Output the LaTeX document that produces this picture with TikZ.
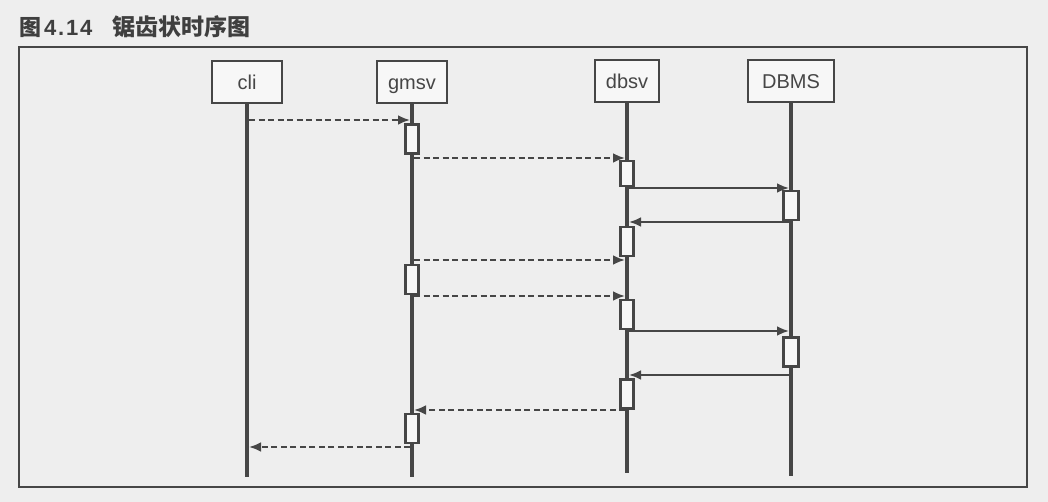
\documentclass[tikz,border=0pt]{standalone}
\usepackage{fontspec}
\setmainfont{Liberation Sans}
\newfontfamily\cjk{Noto Sans CJK SC}
\usetikzlibrary{arrows.meta}
\definecolor{paper}{RGB}{238,238,238}
\definecolor{ink}{RGB}{70,70,70}
\definecolor{boxfill}{RGB}{247,247,247}

\begin{document}
\begin{tikzpicture}[x=1pt, y=-1pt,
	head/.style={draw=ink, line width=2.4pt, fill=boxfill, minimum height=42pt, inner sep=0pt, text height=16pt, text depth=0pt, text=ink, font=\fontsize{20}{20}\selectfont},
	life/.style={ink, line width=4.5pt},
	act/.style={draw=ink, line width=2.4pt, fill=boxfill, minimum width=13pt, minimum height=29pt, inner sep=0pt},
	query/.style={ink, line width=2.8pt, shorten <=2pt, shorten >=2pt, -{Latex[length=12pt,width=10pt]}},
	remote/.style={query, dash pattern=on 6pt off 3.5pt}]

% page
\fill[paper] (0,0) rectangle (1048,502);
\useasboundingbox (0,0) rectangle (1048,502);

% caption
\node[anchor=west, text=ink!90!black, inner sep=0pt] (title) at (19,27)
	{\fontsize{22}{22}\selectfont{\cjk\bfseries 图}\hspace{3pt}{\addfontfeature{LetterSpace=8}\bfseries 4.14}\hspace{20pt}{\fontsize{23}{23}\selectfont\cjk\bfseries 锯齿状时序图}};

% frame
\draw[ink, line width=1.6pt] (19,47) rectangle (1027,487);

% heads
\node[head, minimum width=70pt] (cli) at (247,82) {cli};
\node[head, minimum width=70pt] (gmsv) at (412,82) {gmsv};
\node[head, minimum width=64pt] (dbsv) at (627,81) {dbsv};
\node[head, minimum width=86pt] (dbms) at (791,81) {DBMS};

% lifelines
\draw[life] (cli.south) -- ++(0,373);
\draw[life] (gmsv.south) -- ++(0,373);
\draw[life] (dbsv.south) -- ++(0,370);
\draw[life] (dbms.south) -- ++(0,373);

% activations
\node[act] (a1) at (gmsv |- 0,139) {};
\node[act, minimum height=25pt] (a2) at (dbsv |- 0,173.5) {};
\node[act, minimum width=15pt] (a3) at (dbms |- 0,205.5) {};
\node[act] (a4) at (dbsv |- 0,241.5) {};
\node[act] (a5) at (gmsv |- 0,279.5) {};
\node[act] (a6) at (dbsv |- 0,314.5) {};
\node[act, minimum width=15pt] (a7) at (dbms |- 0,352) {};
\node[act] (a8) at (dbsv |- 0,394) {};
\node[act] (a9) at (gmsv |- 0,428.5) {};

% messages
\draw[remote] (cli |- 0,120) -- (gmsv |- 0,120);
\draw[remote] (gmsv |- 0,158) -- (dbsv |- 0,158);
\draw[query] (dbsv |- 0,188) -- (dbms |- 0,188);
\draw[query] (dbms |- 0,222) -- (dbsv |- 0,222);
\draw[remote] (gmsv |- 0,260) -- (dbsv |- 0,260);
\draw[remote] (gmsv |- 0,296) -- (dbsv |- 0,296);
\draw[query] (dbsv |- 0,331) -- (dbms |- 0,331);
\draw[query] (dbms |- 0,375) -- (dbsv |- 0,375);
\draw[remote] (dbsv |- 0,410) -- (gmsv |- 0,410);
\draw[remote] (gmsv |- 0,447) -- (cli |- 0,447);

\end{tikzpicture}
\end{document}
